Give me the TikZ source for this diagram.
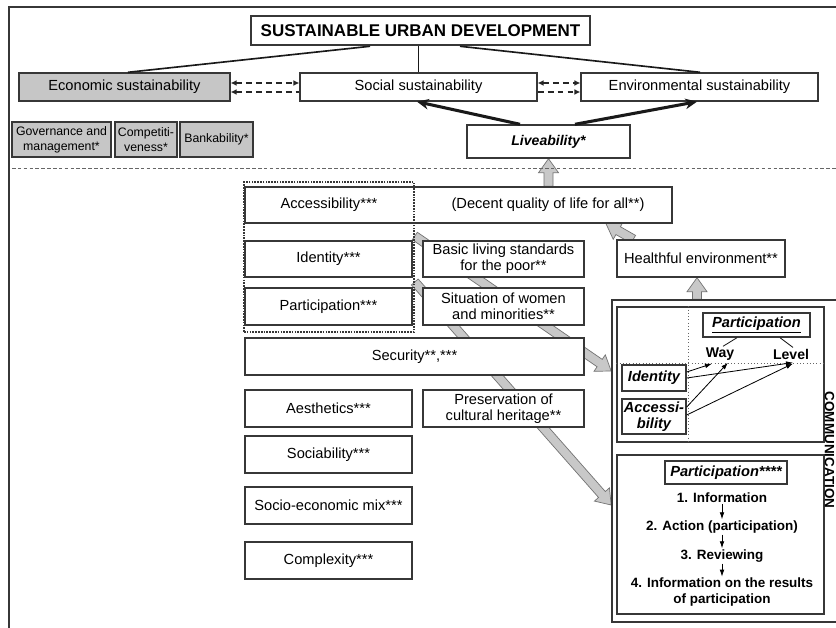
\documentclass[tikz,border=0pt]{standalone}
\usepackage{fontspec}
\setmainfont{Liberation Sans}
\usetikzlibrary{positioning, arrows.meta, calc, backgrounds}
\definecolor{boxgray}{RGB}{198, 198, 198}
\definecolor{linegray}{RGB}{55, 55, 55}
\definecolor{bandgray}{RGB}{200, 200, 200}
\tikzset{
  wh/.style 2 args={minimum width=#1*0.03cm, minimum height=#2*0.03cm},
  box/.style={
    draw=linegray, line width=1.2pt, fill=white,
    inner sep=1pt, align=center,
    font=\fontsize{12.5}{14}\selectfont
  },
  graybox/.style={box, fill=boxgray},
  smallgray/.style={graybox, font=\fontsize{10.5}{12.5}\selectfont},
  inbox/.style={box, font=\fontsize{12.5}{14}\selectfont\bfseries\itshape},
  stepnode/.style={font=\fontsize{11.5}{13}\selectfont\bfseries, align=center, inner sep=1pt},
  conn/.style={draw=black!90, line width=1.4pt},
  liftarrow/.style={draw=black!90, line width=2.6pt, -{Stealth[length=10pt, width=9pt]}},
  dasharrow/.style={draw=black!85, line width=1.3pt, dash pattern=on 5pt off 3.5pt},
  band/.style={fill=bandgray, draw=black!55, line width=0.6pt},
  smallarrow/.style={draw=black, line width=0.7pt, -{Latex[length=6pt, width=4pt]}},
  dotline/.style={draw=black!60, line width=0.8pt, dotted}
}
% wide grey arrow from #1 to #2
\newcommand{\fatarrow}[2]{
  \draw[band] let \p1=($(#2)-(#1)$), \n1={atan2(\y1,\x1)} in
    ($(#1)+(\n1+90:0.135cm)$) --
    ($(#2)+(\n1+180:0.42cm)+(\n1+90:0.135cm)$) --
    ($(#2)+(\n1+180:0.42cm)+(\n1+90:0.3cm)$) --
    (#2) --
    ($(#2)+(\n1+180:0.42cm)+(\n1-90:0.3cm)$) --
    ($(#2)+(\n1+180:0.42cm)+(\n1-90:0.135cm)$) --
    ($(#1)+(\n1-90:0.135cm)$) -- cycle;
}

\begin{document}
\begin{tikzpicture}[x=0.03cm, y=-0.03cm]
\useasboundingbox (0,0) rectangle (836,628);
\clip (0,0) rectangle (836,628);

% frame and separator
\draw[linegray, line width=1.2pt] (9,628) -- (9,7) -- (836,7);
\draw[black!60, line width=0.6pt, dash pattern=on 3pt off 2pt] (12,168) -- (836,168);

% Top level
\node[box, line width=2.2pt, font=\fontsize{14.5}{16}\selectfont\bfseries, wh={339}{29}] (title) at (420.5,30.5) {SUSTAINABLE URBAN DEVELOPMENT};
\node[graybox, wh={211}{28}] (econ) at (124.5,87) {Economic sustainability};
\node[box, wh={237}{28}] (social) at (418.5,87) {Social sustainability};
\node[box, wh={237}{28}] (env) at (699.5,87) {Environmental sustainability};
\node[box, font=\fontsize{12}{14}\selectfont\bfseries\itshape, wh={163}{33}] (live) at (548.5,141.5) {Liveability*};

\node[smallgray, wh={99}{35}] (gov) at (61.5,139.5) {Governance and\\management*};
\node[smallgray, wh={62}{35}] (comp) at (146,139.5) {Competiti-\\veness*};
\node[smallgray, wh={73}{35}] (bank) at (216.5,139.5) {Bankability*};

\draw[conn] (title.south -| {370,0}) -- (econ.north -| {128,0});
\draw[conn] (title.south -| social.north) -- (social.north);
\draw[conn] (title.south -| {460,0}) -- (env.north -| {700,0});

\draw[dasharrow, {Latex[length=5pt, width=5pt]}-{Latex[length=5pt, width=5pt]}] (econ.east |- {0,83}) -- (social.west |- {0,83});
\draw[dasharrow, {Latex[length=5pt, width=5pt]}-] (econ.east |- {0,92}) -- (social.west |- {0,92});
\draw[dasharrow, {Latex[length=5pt, width=5pt]}-{Latex[length=5pt, width=5pt]}] (social.east |- {0,83}) -- (env.west |- {0,83});
\draw[dasharrow, -{Latex[length=5pt, width=5pt]}] (social.east |- {0,92}) -- (env.west |- {0,92});

\draw[liftarrow] (live.north -| {520,0}) -- (social.south -| {417,0});
\draw[liftarrow] (live.north -| {575,0}) -- (env.south -| {697,0});

% Social criteria
\node[box, wh={427}{36}] (qol) at (458.5,205) {};
\node[font=\fontsize{12.5}{14}\selectfont] (access) at (329,205) {Accessibility***};
\node[font=\fontsize{12.5}{14}\selectfont] (decent) at (548,205) {(Decent quality of life for all**)};

\node[box, wh={167}{36}] (ident) at (328.5,259) {Identity***};
\node[box, wh={167}{37}] (partic) at (328.5,306.5) {Participation***};
\node[box, wh={161}{36}] (basic) at (503.5,259) {Basic living standards\\for the poor**};
\node[box, wh={161}{37}] (situ) at (503.5,306.5) {Situation of women\\and minorities**};
\node[box, wh={339}{37}] (secur) at (414.5,356.5) {Security**,***};
\node[box, wh={167}{37}] (aesth) at (328.5,408.5) {Aesthetics***};
\node[box, wh={161}{37}] (pres) at (503.5,408.5) {Preservation of\\cultural heritage**};
\node[box, wh={167}{37}] (socia) at (328.5,454.5) {Sociability***};
\node[box, wh={167}{37}] (socmix) at (328.5,505.5) {Socio-economic mix***};
\node[box, wh={167}{37}] (compl) at (328.5,560.5) {Complexity***};
\node[box, wh={168}{37}] (health) at (701,258.5) {Healthful environment**};

\node[draw=linegray, densely dotted, line width=1.4pt, wh={170}{150}] (grp) at (329,257) {};

% Communication panel
\node[draw=linegray, line width=1.4pt, wh={238}{322}] (comm) at (731,461) {};
\node[draw=linegray, line width=1.2pt, wh={207}{135}] (pan1) at (720.5,374.5) {};
\node[draw=linegray, line width=1.2pt, wh={207}{159}] (pan2) at (720.5,534.5) {};
\draw[dotline] (pan1.north -| {688,0}) -- (pan1.south -| {688,0});
\draw[dotline] (pan1.west |- {0,363}) -- (pan1.east |- {0,363});

\node[inbox, wh={107}{24}] (ppart) at (756.5,325) {\underline{Participation}};
\node[font=\fontsize{12}{14}\selectfont\bfseries, inner sep=1pt] (way) at (720,354) {Way};
\node[font=\fontsize{12}{14}\selectfont\bfseries, inner sep=1pt] (level) at (791,354) {Level};
\node[inbox, wh={64}{26}] (pid) at (654,378) {Identity};
\node[inbox, wh={64}{35}] (pacc) at (654,416.5) {Accessi-\\bility};

\draw[conn, line width=0.7pt] (ppart.south -| {737,0}) -- ($(way.north)+(3,0)$);
\draw[conn, line width=0.7pt] (ppart.south -| {780,0}) -- ($(level.north)+(2,0)$);
\draw[smallarrow] (pid.east |- {0,372}) -- ($(way.south)+(-8,2)$);
\draw[smallarrow] (pid.east |- {0,378}) -- ($(level.south)+(2,2)$);
\draw[smallarrow] (pacc.east |- {0,407}) -- ($(way.south)+(8,1)$);
\draw[smallarrow] (pacc.east |- {0,415}) -- ($(level.south)+(2,3)$);

\node[inbox, wh={122}{23}] (pp4) at (726,472.5) {Participation****};
\node[stepnode] (s1) at (722,498) {1. Information};
\node[stepnode] (s2) at (722,527) {2. Action (participation)};
\node[stepnode] (s3) at (722,556) {3. Reviewing};
\node[stepnode] (s4) at (722,592) {4. Information on the results\\of participation};
\draw[smallarrow] (s1) -- (s2);
\draw[smallarrow] (s2) -- (s3);
\draw[smallarrow] (s3) -- (s4);

\node[rotate=-90, font=\fontsize{11.5}{13}\selectfont\bfseries, inner sep=0pt] (commlbl) at (829.5,450) {COMMUNICATION};

% Grey arrows behind the boxes
\coordinate (qolup) at (qol.north -| live.south);
\coordinate (hlout) at ($(health.north west)+(17,0)$);
\coordinate (qolin) at (qol.south -| {606,0});
\coordinate (commup) at (comm.north -| {697,0});
\coordinate (hlin) at (health.south -| {697,0});
\coordinate (grpA) at (grp.east |- {0,236});
\coordinate (grpB) at (grp.east |- {0,282});
\coordinate (commA) at (comm.west |- {0,371});
\coordinate (commB) at (comm.west |- {0,505});
\begin{scope}[on background layer]
  \fill[white] (0,0) rectangle (836,628);
  \fatarrow{qolup}{live.south}
  \fatarrow{hlout}{qolin}
  \fatarrow{commup}{hlin}
  \fatarrow{grpA}{commA}
  \fatarrow{grpB}{commB}
\end{scope}

\end{tikzpicture}
\end{document}
